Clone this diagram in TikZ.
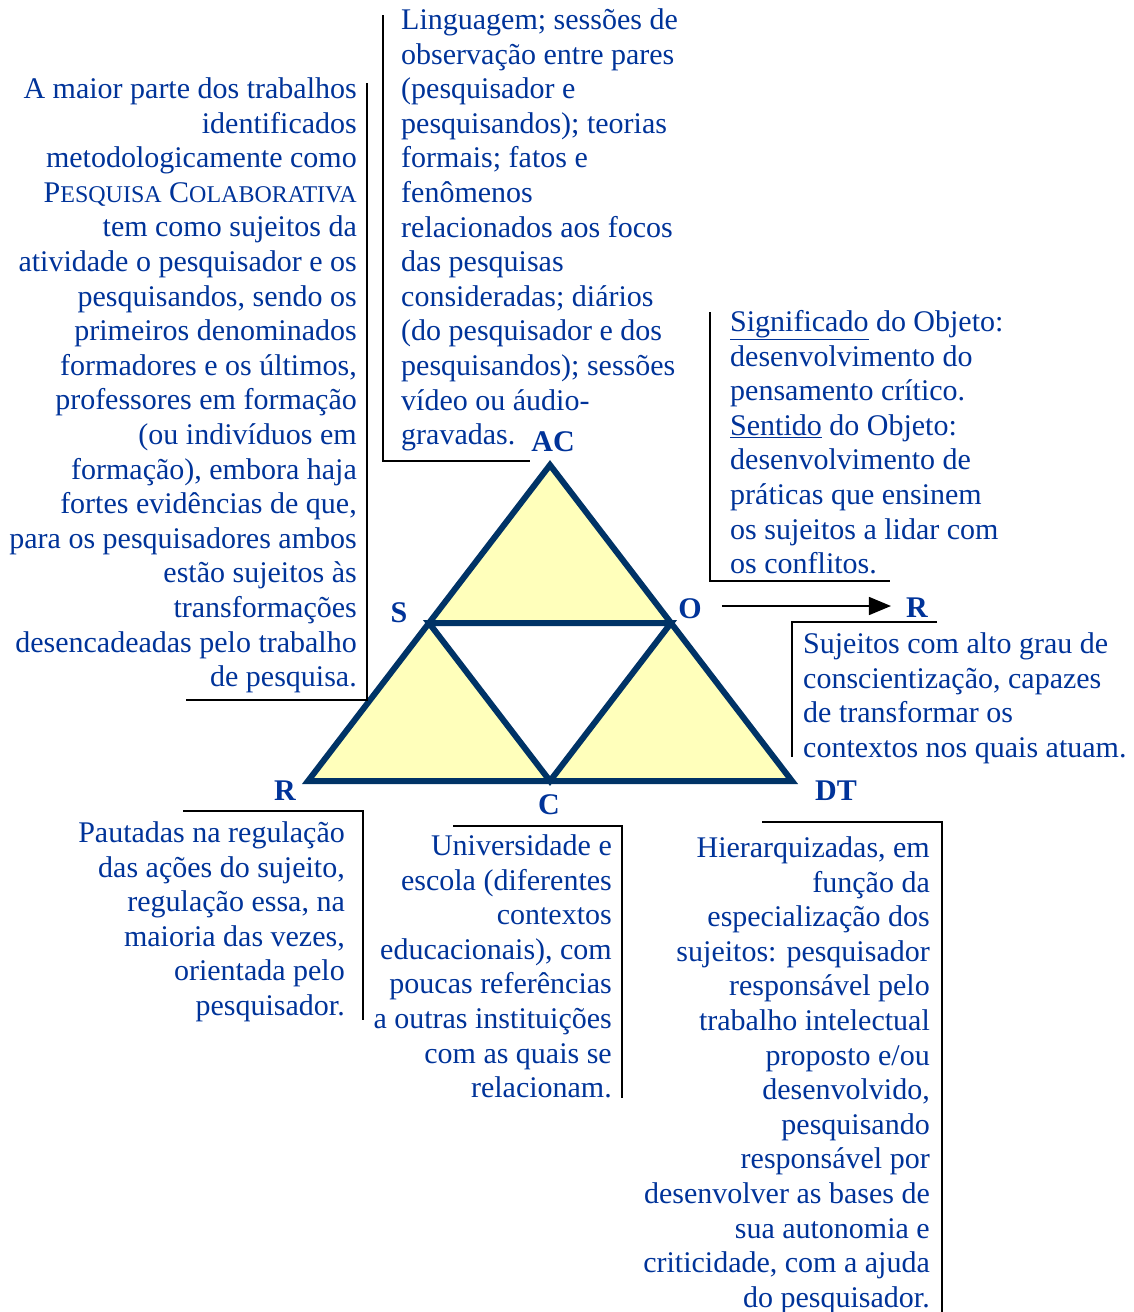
\documentclass[tikz,border=0pt]{standalone}
\usepackage{fontspec}
\setmainfont{Liberation Serif}
\usetikzlibrary{arrows.meta,calc}

\newcommand{\smallcapsfake}[1]{{\fontsize{24}{34.6}\selectfont #1}}

\begin{document}
\begin{tikzpicture}[x=1pt, y=-1pt,
    caption/.style={font=\fontsize{30}{34.6}\selectfont, text=txtblue, inner sep=0pt},
    vertexlbl/.style={font=\fontsize{30}{34.6}\selectfont\bfseries, text=txtblue, inner sep=0pt},
    bracket/.style={line width=1.5pt, black},
    triline/.style={draw=trinavy, line width=6pt}]
    \definecolor{txtblue}{RGB}{0,51,153}
    \definecolor{trinavy}{RGB}{0,51,102}
    \definecolor{triyellow}{RGB}{255,255,187}

    \useasboundingbox (0,0) rectangle (1133,1312);

    % outer triangle and midpoints
    \coordinate (AC) at (550,465);
    \coordinate (R) at (308,781);
    \coordinate (DT) at (792,781);
    \coordinate (S) at ($(AC)!0.5!(R)$);
    \coordinate (O) at ($(AC)!0.5!(DT)$);
    \coordinate (C) at ($(R)!0.5!(DT)$);

    \filldraw[triline, fill=triyellow] (AC) -- (R) -- (DT) -- cycle;
    \filldraw[triline, fill=white] (S) -- (O) -- (C) -- cycle;

    % vertex labels
    \node[vertexlbl] (lblAC) at (553,442) {AC};
    \node[vertexlbl] (lblS) at (399,613) {S};
    \node[vertexlbl] (lblO) at (690,609) {O};
    \node[vertexlbl] (lblR) at (285,791) {R};
    \node[vertexlbl] (lblC) at (549,805) {C};
    \node[vertexlbl] (lblDT) at (836,791) {DT};
    \node[vertexlbl] (lblRout) at (917,608) {R};

    \draw[line width=1.5pt, -{Triangle[length=22pt,width=18pt]}]
        ($(lblO.east)+(20,-3)$) -- ($(lblO.east -| lblRout.west)+(-15,-3)$);

    % texts
    \node[caption, align=right, anchor=north east] (subjtxt) at (357,74) {\strut A maior parte dos trabalhos\\
        identificados\\
        metodologicamente como\\
        P\smallcapsfake{ESQUISA} C\smallcapsfake{OLABORATIVA}\\
        tem como sujeitos da\\
        atividade o pesquisador e os\\
        pesquisandos, sendo os\\
        primeiros denominados\\
        formadores e os últimos,\\
        professores em formação\\
        (ou indivíduos em\\
        formação), embora haja\\
        fortes evidências de que,\\
        para os pesquisadores ambos\\
        estão sujeitos às\\
        transformações\\
        desencadeadas pelo trabalho\\
        de pesquisa.};
    \node[caption, align=left, anchor=north west] (actxt) at (401,5) {\strut Linguagem; sessões de\\
        observação entre pares\\
        (pesquisador e\\
        pesquisandos); teorias\\
        formais; fatos e\\
        fenômenos\\
        relacionados aos focos\\
        das pesquisas\\
        consideradas; diários\\
        (do pesquisador e dos\\
        pesquisandos); sessões\\
        vídeo ou áudio-\\
        gravadas.};
    \node[caption, align=left, anchor=north west] (objtxt) at (730,307) {\strut\underline{Significado} do Objeto:\\
        desenvolvimento do\\
        pensamento crítico.\\
        \underline{Sentido} do Objeto:\\
        desenvolvimento de\\
        práticas que ensinem\\
        os sujeitos a lidar com\\
        os conflitos.};
    \node[caption, align=left, anchor=north west] (restxt) at (803,629) {\strut Sujeitos com alto grau de\\
        conscientização, capazes\\
        de transformar os\\
        contextos nos quais atuam.};
    \node[caption, align=right, anchor=north east] (regtxt) at (345,818) {\strut Pautadas na regulação\\
        das ações do sujeito,\\
        regulação essa, na\\
        maioria das vezes,\\
        orientada pelo\\
        pesquisador.};
    \node[caption, align=right, anchor=north east] (comtxt) at (612,831) {\strut Universidade e\\
        escola (diferentes\\
        contextos\\
        educacionais), com\\
        poucas referências\\
        a outras instituições\\
        com as quais se\\
        relacionam.};
    \node[caption, align=right, anchor=north east] (divtxt) at (930,833) {\strut Hierarquizadas, em\\
        função da\\
        especialização dos\\
        sujeitos: pesquisador\\
        responsável pelo\\
        trabalho intelectual\\
        proposto e/ou\\
        desenvolvido,\\
        pesquisando\\
        responsável por\\
        desenvolver as bases de\\
        sua autonomia e\\
        criticidade, com a ajuda\\
        do pesquisador.};

    % brackets
    \draw[bracket] (367,83) -- (367,700) -- (186,700);
    \draw[bracket] (383,15) -- (383,461) -- (530,461);
    \draw[bracket] (710,312) -- (710,581) -- (890,581);
    \draw[bracket] (937,622) -- (792,622) -- (792,757);
    \draw[bracket] (183,811) -- (363,811) -- (363,1020);
    \draw[bracket] (453,826) -- (622,826) -- (622,1098);
    \draw[bracket] (762,822) -- (942,822) -- (942,1312);
\end{tikzpicture}
\end{document}
